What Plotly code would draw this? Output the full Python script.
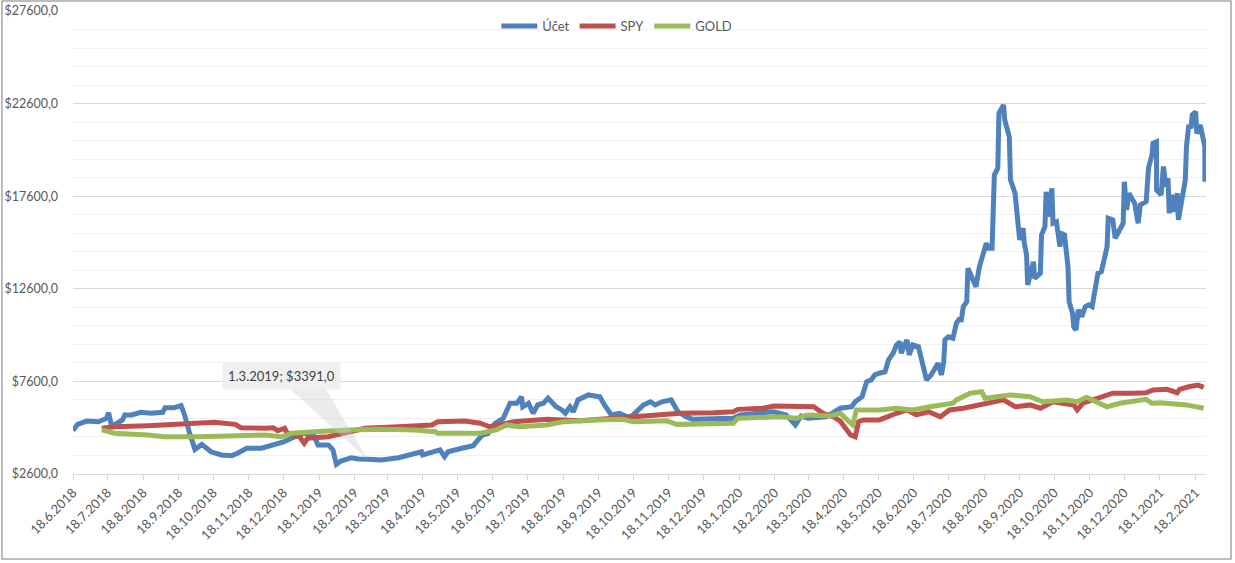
import pandas as pd
import plotly.graph_objects as go

# x values are days since 18.6.2018
start = pd.Timestamp("2018-06-18")

ucet_days = [0, 4, 12, 22, 29, 31, 33, 36, 43, 45, 51, 59, 68, 78, 80, 88, 94, 97, 101, 106,
             112, 120, 129, 138, 143, 151, 164, 174, 183, 193, 201, 209, 213, 222, 226, 229, 233, 242, 248, 256,
             268, 283, 297, 303, 304, 309, 319, 323, 326, 338, 348, 352, 356, 361, 367, 374, 380, 386, 390, 391,
             396, 400, 404, 409, 413, 420, 425, 428, 432, 435, 439, 448, 458, 462, 468, 475, 483, 487, 496, 502,
             506, 512, 520, 526, 533, 539, 557, 574, 580, 597, 609, 620, 628, 633, 639, 655, 667, 677, 680, 686,
             688, 690, 694, 697, 701, 706, 709, 713, 716, 719, 720, 725, 727, 730, 735, 738, 742, 746, 752, 755,
             757, 758, 761, 765, 768, 771, 772, 774, 777, 778, 781, 785, 787, 788, 791, 794, 796, 799, 801, 804,
             805, 809, 810, 814, 815, 819, 820, 823, 826, 827, 829, 830, 835, 836, 841, 842, 845, 846, 848, 851,
             852, 855, 858, 859, 862, 865, 866, 869, 870, 872, 874, 877, 880, 883, 886, 888, 891, 894, 897, 899,
             900, 904, 906, 913, 914, 916, 918, 923, 926, 928, 933, 934, 935, 938, 939, 942, 942, 946, 948, 950,
             952, 953, 955, 957, 960, 961, 964, 967, 968, 970, 972, 973, 976, 977, 980, 982, 984, 984]
ucet_vals = [4950, 5280, 5460, 5420, 5600, 5910, 5340, 5250, 5520, 5790, 5790, 5930, 5880, 5930, 6180, 6180, 6290, 5790, 4880, 3930,
             4200, 3800, 3630, 3590, 3720, 3990, 3990, 4170, 4340, 4610, 4800, 4740, 4170, 4170, 3900, 3120, 3300, 3480, 3410, 3391,
             3360, 3480, 3720, 3800, 3630, 3720, 3900, 3540, 3800, 3990, 4130, 4440, 4700, 4800, 5340, 5610, 6420, 6420, 6770, 6230,
             6420, 5880, 6330, 6420, 6690, 6230, 6060, 5880, 6230, 5960, 6600, 6870, 6770, 6330, 5790, 5880, 5660, 5790, 6330, 6500,
             6330, 6500, 6600, 5960, 5690, 5550, 5550, 5610, 5790, 5880, 5960, 5790, 5250, 5730, 5610, 5690, 6150, 6230, 6500, 6770,
             7140, 7580, 7680, 7950, 8040, 8120, 8760, 9120, 9570, 9740, 9120, 9840, 9030, 9570, 9470, 8660, 7680, 7950, 8580, 7950,
             8660, 9840, 10010, 9930, 10740, 11010, 10820, 11630, 11900, 13710, 13250, 12710, 13440, 13790, 14430, 15060, 14790, 14790, 18750, 19110,
             22080, 22530, 21720, 20810, 18480, 17760, 17130, 15240, 15870, 15060, 14430, 12810, 14060, 13170, 13440, 15510, 15960, 17840, 16490, 18030,
             16140, 16220, 14870, 15600, 15510, 13790, 11900, 11280, 10550, 10380, 11460, 11100, 11630, 11730, 11630, 12360, 13440, 13520, 14330, 14870,
             16410, 16320, 15330, 16140, 18380, 16860, 17760, 17220, 16140, 17130, 17310, 18480, 19110, 19830, 20460, 20540, 17940, 17670, 19200, 18110,
             18570, 16680, 17670, 16760, 17760, 16320, 17570, 18480, 20270, 21450, 21270, 21990, 22160, 20980, 21450, 20980, 20270, 18380]

spy_days = [25, 36, 65, 94, 123, 141, 146, 167, 174, 178, 184, 186, 197, 201, 204, 222, 239, 254, 283, 312,
            317, 341, 354, 362, 383, 412, 441, 470, 499, 528, 557, 574, 578, 600, 609, 632, 644, 652, 661, 667,
            673, 676, 680, 683, 687, 701, 716, 725, 733, 744, 754, 762, 774, 790, 803, 809, 819, 832, 841, 852,
            870, 873, 878, 893, 904, 922, 933, 939, 951, 960, 962, 970, 978, 983]
spy_vals = [5070, 5150, 5210, 5280, 5390, 5280, 5100, 5070, 5100, 4940, 5070, 4830, 4610, 4260, 4530, 4610, 4880, 5070, 5150, 5250,
            5420, 5460, 5340, 5150, 5420, 5550, 5480, 5610, 5690, 5880, 5910, 5960, 6090, 6150, 6270, 6270, 6230, 5880, 5690, 5450,
            4980, 4710, 4610, 5420, 5520, 5520, 5880, 6060, 5790, 5960, 5690, 6060, 6150, 6330, 6500, 6600, 6230, 6330, 6150, 6500,
            6330, 6060, 6420, 6770, 6960, 6960, 6990, 7140, 7170, 6990, 7170, 7310, 7400, 7280]

gold_days = [25, 36, 65, 80, 109, 138, 167, 181, 190, 210, 239, 268, 297, 315, 317, 354, 368, 377, 388, 412,
             426, 455, 478, 487, 516, 525, 557, 574, 578, 615, 629, 639, 658, 667, 673, 678, 681, 701, 716, 730,
             745, 765, 768, 780, 790, 793, 803, 815, 832, 843, 864, 873, 881, 893, 899, 910, 933, 938, 945, 968,
             980, 983]
gold_vals = [4980, 4800, 4710, 4610, 4610, 4650, 4710, 4610, 4800, 4880, 4980, 5010, 4980, 4880, 4800, 4800, 4980, 5250, 5150, 5250,
             5420, 5520, 5550, 5420, 5480, 5280, 5280, 5340, 5610, 5690, 5610, 5790, 5730, 5880, 5520, 5250, 6060, 6060, 6150, 6060,
             6230, 6420, 6600, 6960, 7040, 6690, 6770, 6870, 6770, 6500, 6600, 6500, 6740, 6420, 6230, 6420, 6630, 6420, 6450, 6330,
             6230, 6150]

y_ticks = [2600, 7600, 12600, 17600, 22600, 27600]
y_ticktext = ["$2600,0", "$7600,0", "$12600,0", "$17600,0", "$22600,0", "$27600,0"]
x_ticks = [start + pd.DateOffset(months=i) for i in range(33)]
x_ticktext = [f"{d.day}.{d.month}.{d.year}" for d in x_ticks]

callout_day = 256


def to_dates(days):
    return start + pd.to_timedelta(days, unit="D")


font = dict(family="Lato, 'Liberation Sans', sans-serif", size=12, color="#595959")

fig = go.Figure()
series = [("Účet", ucet_days, ucet_vals, "#4F81BD"),
          ("SPY", spy_days, spy_vals, "#C0504D"),
          ("GOLD", gold_days, gold_vals, "#9BBB59")]
for name, d, v, c in series:
    fig.add_trace(go.Scatter(x=to_dates(d), y=v, mode="lines", name=name,
                             line=dict(color=c, width=5)))

# callout on the Účet line
idx = ucet_days.index(callout_day)
cx = to_dates([callout_day])[0]
cy = ucet_vals[idx]
fig.add_shape(type="path", xref="x", yref="y", xsizemode="pixel", ysizemode="pixel",
              xanchor=cx, yanchor=cy, path="M 0 0 L -78 71 L -42 71 Z",
              fillcolor="rgba(205,205,205,0.4)", line=dict(width=0), layer="above")
fig.add_annotation(x=cx, y=cy, xref="x", yref="y", showarrow=False,
                   text=f"{cx.day}.{cx.month}.{cx.year}; ${cy},0",
                   xshift=-86, yshift=83, bgcolor="#f0f0f0", borderpad=5,
                   font=dict(family=font["family"], size=13, color="#404040"))

# chart area border
fig.add_shape(type="rect", xref="paper", yref="paper",
              x0=-0.0627, x1=1.0221, y0=-0.1836, y1=1.0216,
              line=dict(color="#a6a6a6", width=1.5), layer="below")

fig.update_layout(
    width=1235, height=563,
    margin=dict(l=73, r=29, t=11, b=89, autoexpand=False),
    paper_bgcolor="white", plot_bgcolor="white",
    font=font,
    showlegend=True,
    legend=dict(orientation="h", x=0.48, xanchor="center", y=1.0, yanchor="top",
                bgcolor="rgba(0,0,0,0)", font=dict(font, size=13), itemwidth=36),
    hovermode="closest",
)
fig.update_xaxes(
    type="date", automargin=False,
    range=[start, start + pd.Timedelta(days=985)],
    tickvals=x_ticks, ticktext=x_ticktext, tickangle=-45,
    showgrid=False, showline=True, linecolor="#d9d9d9", linewidth=1,
    ticks="outside", ticklen=5, tickcolor="#d9d9d9",
    tickfont=dict(font, size=13), zeroline=False,
)
fig.update_yaxes(
    automargin=False,
    range=[2600, 27600],
    tickvals=y_ticks, ticktext=y_ticktext,
    showgrid=True, gridcolor="#d9d9d9", gridwidth=1,
    minor=dict(tick0=2600, dtick=1000, showgrid=True, gridcolor="#f0f0f0", gridwidth=1),
    showline=False, zeroline=False, ticks="", ticklabelstandoff=14,
    tickfont=dict(font, size=12.5),
)

fig.write_html("out.html", config={"displayModeBar": False},
               post_script="document.body.style.margin = '0';")
